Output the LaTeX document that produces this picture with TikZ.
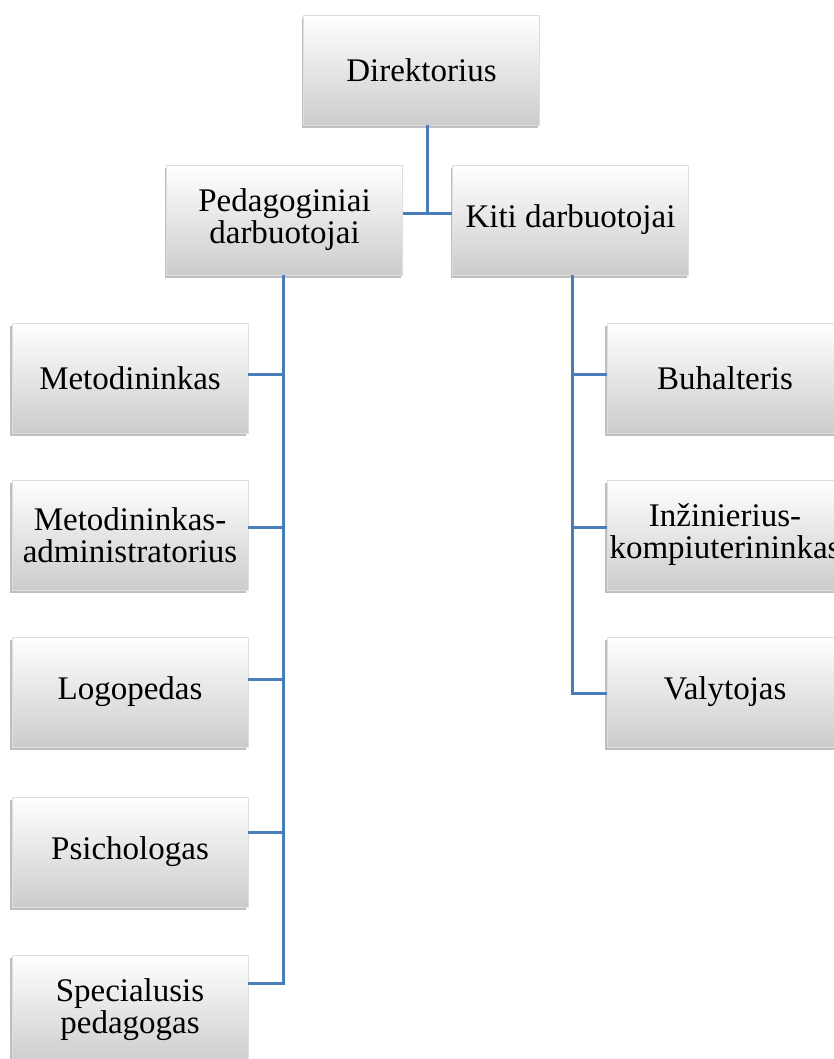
\documentclass[tikz,border=0pt]{standalone}
\usepackage{fontspec}
\setmainfont{Liberation Serif}
\usepackage{xcolor}
\usepackage{tikz}
\usetikzlibrary{positioning, calc}
\usetikzlibrary{shadows}
\definecolor{LineBlue}{RGB}{74, 126, 187}
\definecolor{BoxBorder}{RGB}{222, 222, 222}
\tikzset{
	orgbox/.style={draw=BoxBorder, line width=0.6pt, top color=white, bottom color=black!20,
		minimum width=236pt, minimum height=110pt, inner sep=0pt, align=center,
		font=\fontsize{33}{32}\selectfont,
		drop shadow={shadow xshift=-2pt, shadow yshift=-3pt, opacity=0.5}},
	conn/.style={draw=LineBlue, line width=3pt},
}

\begin{document}
\begin{tikzpicture}[x=1pt, y=-1pt]
	\useasboundingbox (0,0) rectangle (834,1059);
	\clip (0,0) rectangle (834,1059);
	\fill[white] (0,0) rectangle (834,1059);

	% top levels
	\node[orgbox] (dir) at (421.5,70) {Direktorius};
	\node[orgbox] (ped) at (284.5,220) {Pedagoginiai\\darbuotojai};
	\node[orgbox] (kiti) at (570.5,220) {Kiti darbuotojai};

	% left column
	\node[orgbox] (m1) at (130,378) {Metodininkas};
	\node[orgbox] (m2) at (130,535) {Metodininkas-\\administratorius};
	\node[orgbox] (m3) at (130,692) {Logopedas};
	\node[orgbox] (m4) at (130,852) {Psichologas};
	\node[orgbox] (m5) at (130,1010) {Specialusis\\pedagogas};

	% right column
	\node[orgbox] (b1) at (725,378) {Buhalteris};
	\node[orgbox] (b2) at (725,535) {Inžinierius-\\kompiuterininkas};
	\node[orgbox] (b3) at (725,692) {Valytojas};

	% connectors
	\coordinate (top) at ([xshift=6pt]dir.south);
	\coordinate (mid) at ([yshift=6pt]ped.east);
	\draw[conn] (top) -- (top |- mid);
	\draw[conn] (mid) -- ([yshift=6pt]kiti.west);
	\foreach \n/\s in {m1/4, m2/8, m3/13, m4/20, m5/27}
		\draw[conn] ([xshift=-1pt]ped.south) |- ([yshift=\s pt]\n.east);
	\foreach \n/\s in {b1/4, b2/8, b3/-1}
		\draw[conn] ([xshift=1.5pt]kiti.south) |- ([yshift=\s pt]\n.west);
\end{tikzpicture}
\end{document}
